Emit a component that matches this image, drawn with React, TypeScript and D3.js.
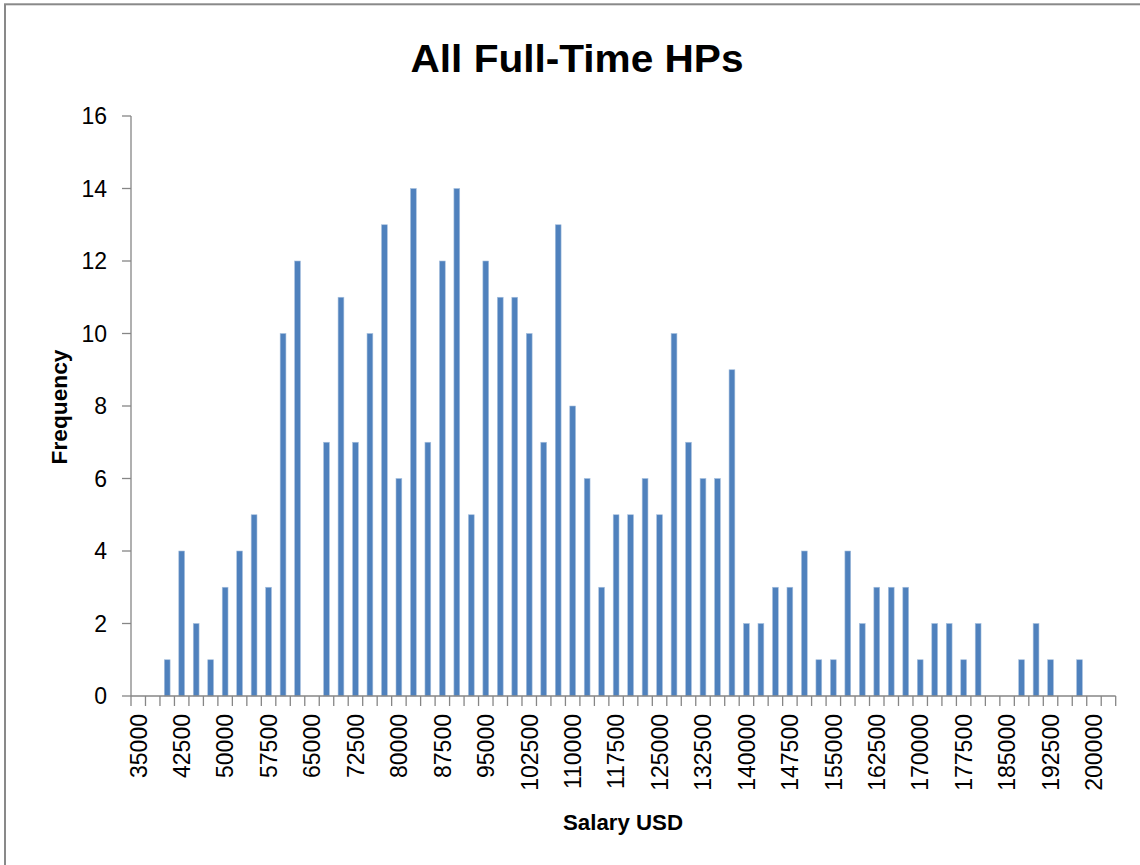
import * as d3 from "d3"

const BINS = [
  35000, 37500, 40000, 42500, 45000, 47500, 50000, 52500, 55000, 57500,
  60000, 62500, 65000, 67500, 70000, 72500, 75000, 77500, 80000, 82500,
  85000, 87500, 90000, 92500, 95000, 97500, 100000, 102500, 105000, 107500,
  110000, 112500, 115000, 117500, 120000, 122500, 125000, 127500, 130000, 132500,
  135000, 137500, 140000, 142500, 145000, 147500, 150000, 152500, 155000, 157500,
  160000, 162500, 165000, 167500, 170000, 172500, 175000, 177500, 180000, 182500,
  185000, 187500, 190000, 192500, 195000, 197500, 200000, 202500,
]

const FREQ = [
  0, 0, 1, 4, 2, 1, 3, 4, 5, 3,
  10, 12, 0, 7, 11, 7, 10, 13, 6, 14,
  7, 12, 14, 5, 12, 11, 11, 10, 7, 13,
  8, 6, 3, 5, 5, 6, 5, 10, 7, 6,
  6, 9, 2, 2, 3, 3, 4, 1, 1, 4,
  2, 3, 3, 3, 1, 2, 2, 1, 2, 0,
  0, 1, 2, 1, 0, 1, 0, 0,
]

// only every third bin gets a label, like the original
const X_LABELS = [
  35000, 42500, 50000, 57500, 65000, 72500, 80000, 87500, 95000, 102500, 110000,
  117500, 125000, 132500, 140000, 147500, 155000, 162500, 170000, 177500, 185000,
  192500, 200000,
]
const Y_TICKS = [0, 2, 4, 6, 8, 10, 12, 14, 16]

const W = 1140
const H = 865
const FONT = "'Liberation Sans', Arial, sans-serif"
const AXIS = "#868686"

export default function App() {
  const x = d3.scaleBand<number>().domain(BINS).range([131, 1115.7]).padding(0)
  const y = d3.scaleLinear().domain([0, 16]).range([696, 116])
  const bw = x.bandwidth()
  const barW = bw * 0.4
  const [x0, x1] = x.range()
  const y0 = y(0)

  return (
    <div style={{ position: "fixed", left: 0, top: 0 }}>
      <svg width={W} height={H} style={{ display: "block", background: "#fff" }}>
        <rect x={5} y={4.3} width={1300} height={1000} fill="#fff" stroke="#898989" strokeWidth={2} />

        <text x={577} y={72} textAnchor="middle" fontFamily={FONT} fontWeight="bold" fontSize={39}
          textLength={333} lengthAdjust="spacingAndGlyphs" fill="#000">
          All Full-Time HPs
        </text>

        {/* y axis */}
        <line x1={x0} x2={x0} y1={y(16)} y2={y0} stroke={AXIS} strokeWidth={1.3} />
        {Y_TICKS.map((t) => (
          <g key={t}>
            <line x1={x0 - 9} x2={x0} y1={y(t)} y2={y(t)} stroke={AXIS} strokeWidth={1.3} />
            <text x={107} y={y(t)} dy="0.36em" textAnchor="end" fontFamily={FONT} fontSize={23} fill="#000">
              {t}
            </text>
          </g>
        ))}

        {/* bars */}
        {BINS.map((b, i) =>
          FREQ[i] > 0 ? (
            <rect key={b} x={(x(b) ?? 0) + (bw - barW) / 2} y={y(FREQ[i])} width={barW}
              height={y0 - y(FREQ[i])} fill="#4F81BD" stroke="#A7C0DE" strokeWidth={0.6} />
          ) : null
        )}

        {/* x axis, ticks sit between categories */}
        <line x1={x0} x2={x1} y1={y0} y2={y0} stroke={AXIS} strokeWidth={1.3} />
        {[...BINS.map((b) => x(b) ?? 0), x1].map((px, i) => (
          <line key={i} x1={px} x2={px} y1={y0} y2={y0 + 10} stroke={AXIS} strokeWidth={1.3} />
        ))}
        {X_LABELS.map((v) => {
          const cx = (x(v) ?? 0) + bw / 2
          return (
            <text key={v} transform={`translate(${cx},714) rotate(-90)`} dy="0.36em" textAnchor="end"
              fontFamily={FONT} fontSize={23} fill="#000">
              {v}
            </text>
          )
        })}

        <text x={623} y={830} textAnchor="middle" fontFamily={FONT} fontWeight="bold" fontSize={22}
          textLength={120} lengthAdjust="spacingAndGlyphs" fill="#000">
          Salary USD
        </text>
        <text transform="translate(67,407) rotate(-90)" textAnchor="middle" fontFamily={FONT}
          fontWeight="bold" fontSize={22} textLength={115} lengthAdjust="spacingAndGlyphs" fill="#000">
          Frequency
        </text>
      </svg>
    </div>
  )
}
